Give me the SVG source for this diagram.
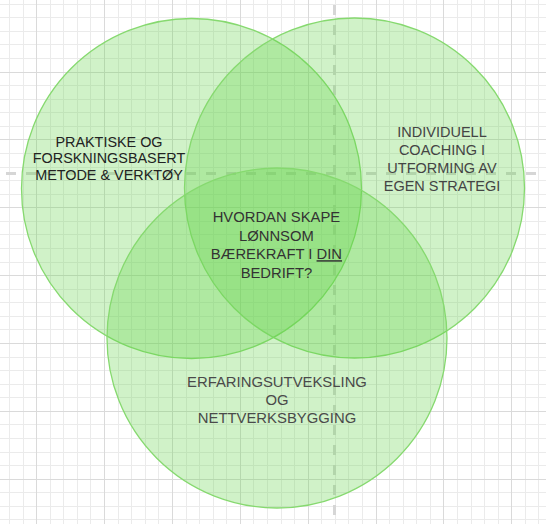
<svg xmlns="http://www.w3.org/2000/svg" width="546" height="524" viewBox="0 0 546 524">
<style>
.minor{stroke:#ebebeb;stroke-width:1;fill:none}
.major{stroke:#dadada;stroke-width:1;fill:none}
.guide{stroke:#d6d6d6;stroke-width:3;stroke-dasharray:10 10;fill:none}
.venn{fill:#62d448;fill-opacity:0.3;stroke:#86d96f;stroke-width:1.3}
text{font-family:"Liberation Sans",Arial,Helvetica,sans-serif;text-anchor:middle}
</style>
<rect width="546" height="524" fill="#ffffff"/>
<g id="grid">
<path class="minor" d="M9.5 0V524M23.5 0V524M50.5 0V524M63.5 0V524M77.5 0V524M90.5 0V524M118.5 0V524M131.5 0V524M145.5 0V524M158.5 0V524M186.5 0V524M199.5 0V524M213.5 0V524M226.5 0V524M253.5 0V524M267.5 0V524M281.5 0V524M294.5 0V524M321.5 0V524M335.5 0V524M348.5 0V524M362.5 0V524M389.5 0V524M403.5 0V524M416.5 0V524M430.5 0V524M457.5 0V524M471.5 0V524M484.5 0V524M498.5 0V524M525.5 0V524M538.5 0V524M0 4.5H546M0 17.5H546M0 31.5H546M0 44.5H546M0 58.5H546M0 85.5H546M0 99.5H546M0 112.5H546M0 126.5H546M0 153.5H546M0 167.5H546M0 180.5H546M0 194.5H546M0 221.5H546M0 234.5H546M0 248.5H546M0 262.5H546M0 289.5H546M0 302.5H546M0 316.5H546M0 329.5H546M0 357.5H546M0 370.5H546M0 384.5H546M0 397.5H546M0 424.5H546M0 438.5H546M0 452.5H546M0 465.5H546M0 492.5H546M0 506.5H546M0 519.5H546"/>
<path class="major" d="M36.5 0V524M104.5 0V524M172.5 0V524M240.5 0V524M308.5 0V524M376.5 0V524M443.5 0V524M511.5 0V524M0 72.5H546M0 139.5H546M0 207.5H546M0 275.5H546M0 343.5H546M0 411.5H546M0 479.5H546"/>
</g>
<g id="guides">
<path class="guide" d="M334.5 5V524"/>
<path class="guide" d="M6 173.5H546"/>
</g>
<g id="circle-left">
<circle class="venn" cx="191.5" cy="188.5" r="170"/>
</g>
<g id="circle-right">
<circle class="venn" cx="354.5" cy="188" r="170"/>
</g>
<g id="circle-bottom">
<circle class="venn" cx="277" cy="338" r="170"/>
</g>
<g id="label-left" fill="#222222" font-size="14.4">
<text x="109" y="146.7">PRAKTISKE OG</text>
<text x="109" y="163.4">FORSKNINGSBASERT</text>
<text x="109" y="180.1">METODE &amp; VERKTØY</text>
</g>
<g id="label-right" fill="#444444" font-size="14.5">
<text x="442" y="137.3">INDIVIDUELL</text>
<text x="442" y="155.2">COACHING I</text>
<text x="442" y="173.1">UTFORMING AV</text>
<text x="442" y="191">EGEN STRATEGI</text>
</g>
<g id="label-bottom" fill="#4a4a4a" font-size="14.85">
<text x="277" y="386.6">ERFARINGSUTVEKSLING</text>
<text x="277" y="404.5">OG</text>
<text x="277" y="422.5">NETTVERKSBYGGING</text>
</g>
<g id="label-center" fill="#333333" font-size="14.8">
<text x="276.4" y="222.4">HVORDAN SKAPE</text>
<text x="276.4" y="240.8">LØNNSOM</text>
<text x="276.4" y="259.2">BÆREKRAFT I <tspan style="text-decoration:underline">DIN</tspan></text>
<text x="276.4" y="277.6">BEDRIFT?</text>
</g>
</svg>
